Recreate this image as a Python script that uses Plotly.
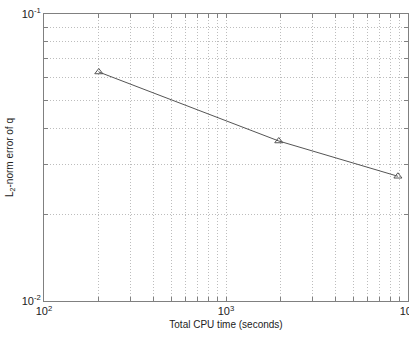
import plotly.graph_objects as go

cpu_time = [200, 1950, 8800]
l2_error = [0.0628, 0.0361, 0.0272]

x_ticks = [m * 10**e for e in (2, 3) for m in range(1, 10)] + [10000]
x_text = ["10<sup>2</sup>" if v == 100 else "10<sup>3</sup>" if v == 1000 else "10<sup>4</sup>" if v == 10000 else "" for v in x_ticks]
y_ticks = [m * 0.01 for m in range(1, 10)] + [0.1]
y_text = ["10<sup>-2</sup>"] + [""] * 8 + ["10<sup>-1</sup>"]

fig = go.Figure()
fig.add_trace(go.Scatter(
    x=cpu_time, y=l2_error, mode="lines+markers",
    line=dict(color="#555555", width=1),
    marker=dict(symbol="triangle-up-open", size=7, color="#555555", line=dict(width=1)),
    showlegend=False, cliponaxis=False,
))

axis_common = dict(
    showline=True, linecolor="#808080", linewidth=1, mirror="ticks",
    showgrid=True, gridcolor="#bdbdbd", griddash="1px,2px", gridwidth=1,
    ticks="inside", ticklen=4, tickcolor="#808080",
    tickfont=dict(family="Liberation Sans, Arial", size=11, color="#222"),
    zeroline=False, ticklabeloverflow="allow", automargin=False,
)

fig.update_layout(
    width=409, height=339,
    margin=dict(l=44, r=1, t=14, b=38),
    paper_bgcolor="white", plot_bgcolor="white",
    font=dict(family="Liberation Sans, Arial", size=10, color="#222"),
    xaxis=dict(type="log", range=[2, 4], tickvals=x_ticks, ticktext=x_text,
               title=dict(text="Total CPU time (seconds)", font=dict(size=10), standoff=4),
               **axis_common),
    yaxis=dict(type="log", range=[-2, -1], tickvals=y_ticks, ticktext=y_text,
               title=dict(text="L<sub>2</sub>-norm error of q", font=dict(size=10), standoff=6),
               **axis_common),
)

fig.write_html("out.html", config={"displayModeBar": False},
               post_script="document.body.style.margin='0';")
